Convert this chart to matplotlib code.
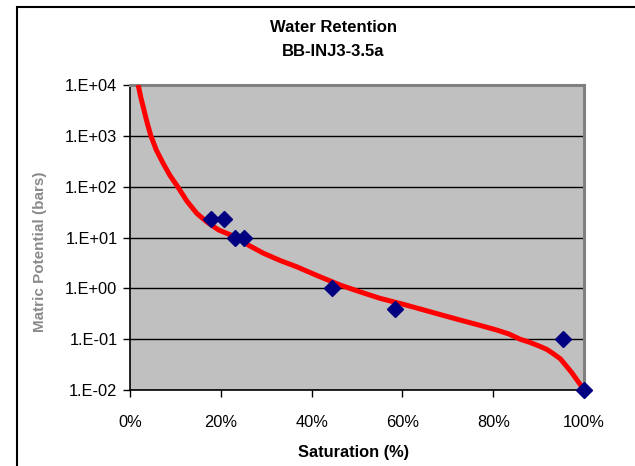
import matplotlib.pyplot as plt
from matplotlib.patches import Rectangle

plt.rcParams['font.family'] = ['Liberation Sans', 'DejaVu Sans']

# measured points (saturation %, matric potential bars)
sat_meas = [17.8, 20.7, 23.1, 25.1, 44.4, 58.4, 95.4, 100.0]
psi_meas = [23, 23, 10, 10, 1.0, 0.40, 0.10, 0.01]

# fitted retention curve
sat_fit = [1.8, 2.4, 3.1, 3.8, 4.6, 5.8, 7.3, 8.8, 10.5, 12.5, 14.7, 17.0, 19.5,
           23.5, 26.3, 29.4, 33.0, 36.7, 41.5, 46.3, 50.7, 55.1, 60.0, 64.5,
           68.5, 72.7, 76.8, 80.8, 83.5, 85.9, 88.0, 90.0, 91.8, 93.2, 94.8,
           96.2, 97.4, 98.4, 99.5, 100.0]
psi_fit = [10000, 5623, 3160, 1778, 1000, 525, 288, 166, 100, 52.5, 29.9, 20.0,
           14.1, 10, 6.9, 4.9, 3.55, 2.66, 1.74, 1.16, 0.851, 0.635, 0.49, 0.38,
           0.302, 0.238, 0.19, 0.151, 0.126, 0.1, 0.087, 0.074, 0.063, 0.052,
           0.041, 0.029, 0.0214, 0.016, 0.0117, 0.01]

yticks = [0.01, 0.1, 1, 10, 100, 1000, 10000]
ytick_labels = ['1.E-02', '1.E-01', '1.E+00', '1.E+01', '1.E+02', '1.E+03', '1.E+04']
xticks = [0, 20, 40, 60, 80, 100]
xtick_labels = ['0%', '20%', '40%', '60%', '80%', '100%']

fig = plt.figure(figsize=(6.35, 4.66), dpi=100)
ax = fig.add_axes([130/635, 76/466, 454/635, 305/466])
ax.set_facecolor('#c0c0c0')

ax.plot(sat_fit, psi_fit, color='#ff0000', lw=3.6, solid_joinstyle='round',
        solid_capstyle='butt', zorder=3)
ax.plot(sat_meas, psi_meas, ls='none', marker='D', ms=8, color='#000080',
        clip_on=False, zorder=4)

ax.set_yscale('log')
ax.set_xlim(0, 100)
ax.set_ylim(0.01, 10000)
ax.set_yticks(yticks)
ax.set_yticklabels(ytick_labels)
ax.minorticks_off()
ax.set_xticks(xticks)
ax.set_xticklabels(xtick_labels)
ax.tick_params(axis='both', direction='out', length=5, width=1, labelsize=11.8,
               colors='black', pad=4)
ax.tick_params(axis='x', pad=13)

ax.grid(axis='y', color='black', lw=1)
ax.set_axisbelow(True)

for s in ['left', 'bottom']:
    ax.spines[s].set_color('black')
    ax.spines[s].set_linewidth(1.2)
for s in ['top', 'right']:
    ax.spines[s].set_color('#808080')
    ax.spines[s].set_linewidth(2.2)

fig.text(354/635, 1 - 452/466, 'Saturation (%)', ha='center', va='center',
         fontsize=11.8, fontweight='bold')
fig.text(40/635, 1 - 252/466, 'Matric Potential (bars)', rotation=90,
         ha='center', va='center', fontsize=11, fontweight='bold', color='#8a8a8a')

fig.text(333/635, 1 - 28/466, 'Water Retention', ha='center', va='center',
         fontsize=12, fontweight='bold')
fig.text(333/635, 1 - 52/466, 'BB-INJ3-3.5a', ha='center', va='center',
         fontsize=12, fontweight='bold')

# chart area frame
fig.patches.append(Rectangle((17/635, -0.1), 1.2, 1.1 - 7/466, fill=False,
                             ec='black', lw=1.5, transform=fig.transFigure))

fig.savefig('out.png', dpi=100)
